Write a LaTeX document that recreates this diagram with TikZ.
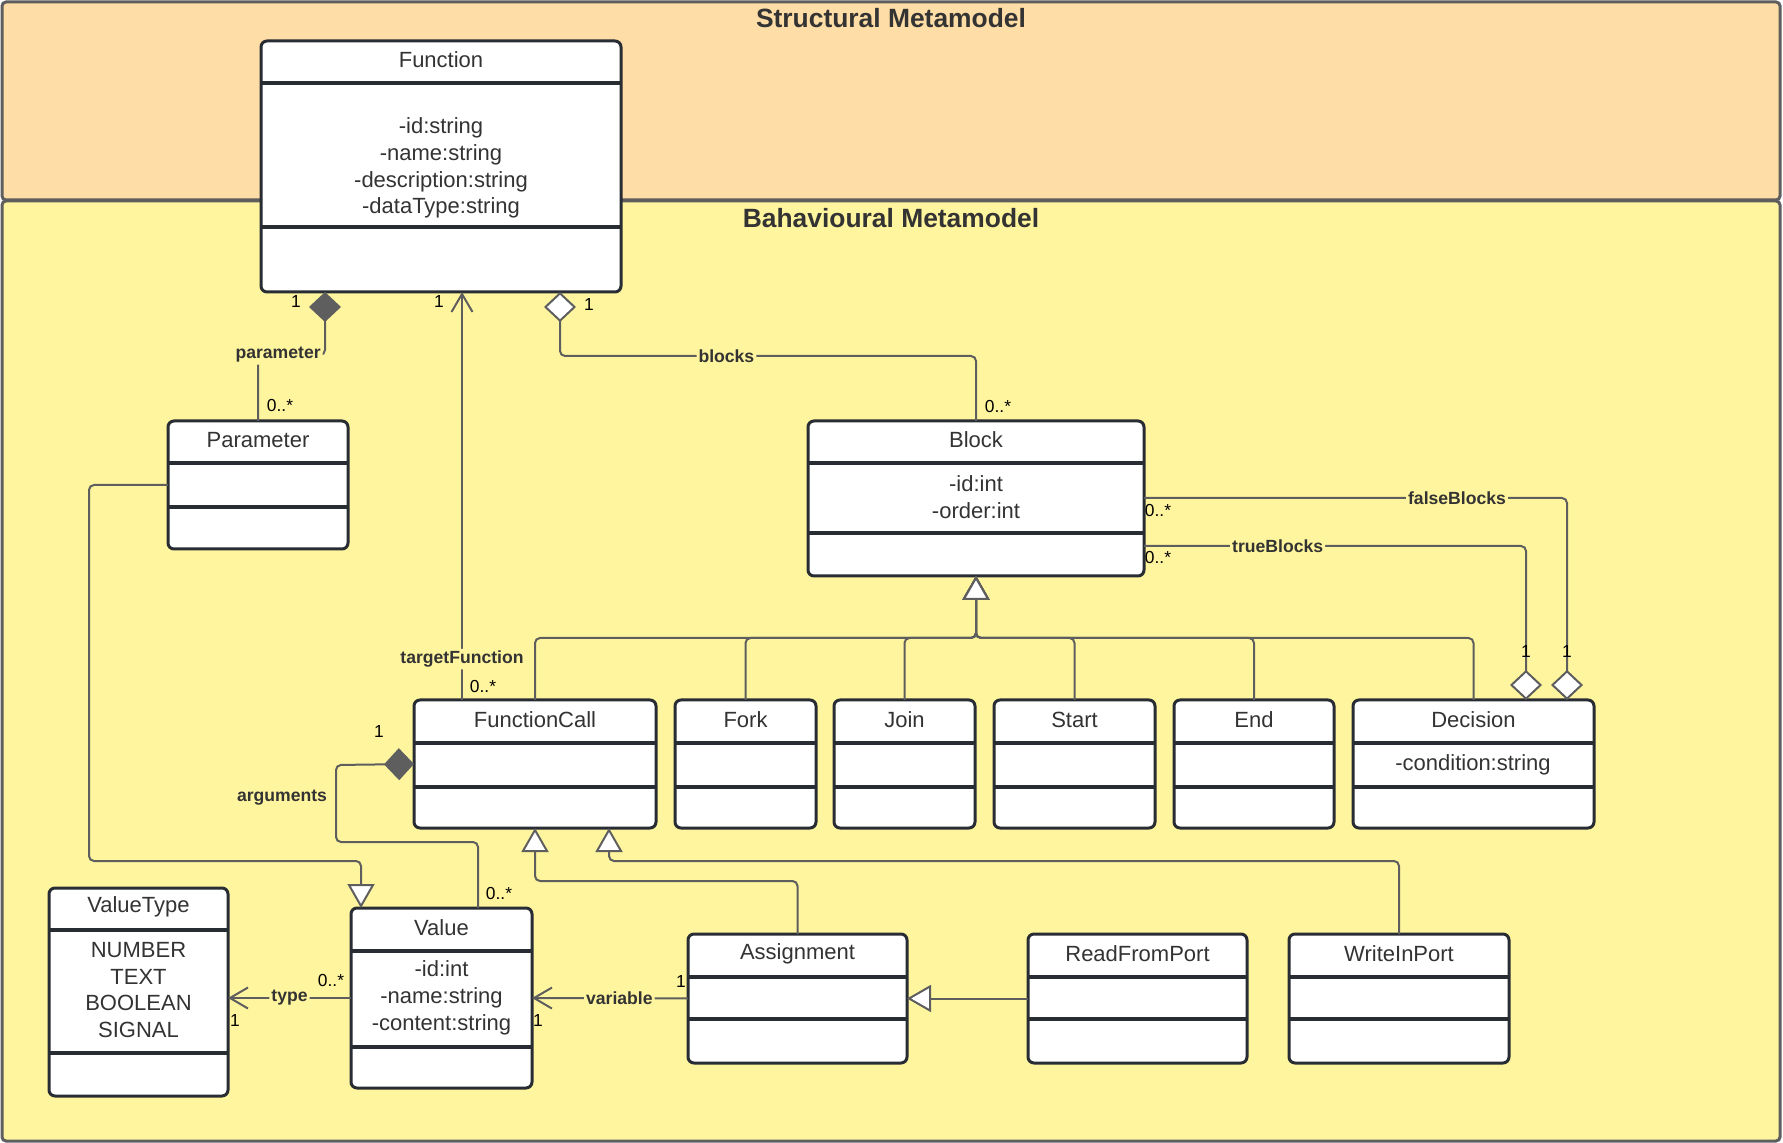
\documentclass[tikz,border=0pt]{standalone}
\usepackage{fontspec}
\setmainfont{Liberation Sans}
\usetikzlibrary{arrows.meta, fit, calc}

\definecolor{structfill}{HTML}{FFDDA6}
\definecolor{behavfill}{HTML}{FFF59E}
\definecolor{linegray}{HTML}{5E5E5E}
\definecolor{boxline}{HTML}{282C33}
\definecolor{txt}{HTML}{333333}

% class box: name, x1, y1, x2, y2, first line, second line, title
\newcommand{\umlclass}[8]{%
  \node[cls, fit={(#2,#3) (#4,#5)}] (#1) {};
  \draw[clsline] (#2,#6) -- (#4,#6);
  \draw[clsline] (#2,#7) -- (#4,#7);
  \node[clsname] (#1-name) at ($(#2,#3)!0.5!(#4,#6)$) {#8};
}

\begin{document}
\begin{tikzpicture}[x=0.5pt, y=-0.5pt,
  panel/.style={draw=linegray, line width=1.5pt, rounded corners=2pt},
  ptitle/.style={font=\bfseries\fontsize{13.2}{15}\selectfont, text=txt},
  cls/.style={draw=boxline, fill=white, line width=1.5pt, rounded corners=3pt, inner sep=0pt, outer sep=0pt},
  clsline/.style={draw=boxline, line width=1.8pt},
  clsname/.style={font=\fontsize{11}{13.4}\selectfont, text=txt, yshift=1pt},
  attr/.style={font=\fontsize{11}{13.4}\selectfont, text=txt, align=center},
  conn/.style={draw=linegray, line width=1pt, rounded corners=2.5pt},
  comp/.style={conn, -{Diamond[length=15pt, width=16pt, fill=linegray]}},
  aggr/.style={conn, -{Diamond[length=15pt, width=16pt, fill=white]}},
  gen/.style={conn, -{Triangle[length=12pt, width=13.5pt, fill=white]}},
  assoc/.style={conn, -{Straight Barb[length=9pt, width=10.5pt]}},
  lbl/.style={font=\bfseries\fontsize{8.8}{10}\selectfont, text=txt, fill=behavfill, inner sep=1pt},
  mult/.style={font=\fontsize{8.7}{10}\selectfont, inner sep=0pt}]
\useasboundingbox (0,0) rectangle (1783,1143);

% packages
\draw[panel, fill=structfill] (2,2) rectangle (1780,200);
\draw[panel, fill=behavfill] (2,201) rectangle (1780,1141);
\node[ptitle] (stitle) at (891,18) {Structural Metamodel};
\node[ptitle] (btitle) at (891,218) {Bahavioural Metamodel};

% classes
\umlclass{fn}{261}{41}{621}{292}{83}{227}{Function}
\node[attr] (fn-attr) at (441,168) {-id:string\\-name:string\\-description:string\\-dataType:string};
\umlclass{par}{168}{421}{348}{549}{463}{507}{Parameter}
\umlclass{blk}{808}{421}{1144}{576}{463}{533}{Block}
\node[attr] (blk-attr) at (976,497) {-id:int\\-order:int};
\umlclass{fcall}{414}{700}{656}{828}{743}{787}{FunctionCall}
\umlclass{fork}{675}{700}{816}{828}{743}{787}{Fork}
\umlclass{join}{834}{700}{975}{828}{743}{787}{Join}
\umlclass{start}{994}{700}{1155}{828}{743}{787}{Start}
\umlclass{endb}{1174}{700}{1334}{828}{743}{787}{End}
\umlclass{dec}{1353}{700}{1594}{828}{743}{787}{Decision}
\node[attr] (dec-attr) at (1473,765) {-condition:string};
\umlclass{vtype}{49}{888}{228}{1096}{930}{1053}{ValueType}
\node[attr] (vtype-attr) at (138.5,990) {NUMBER\\TEXT\\BOOLEAN\\SIGNAL};
\umlclass{val}{351}{908}{532}{1088}{951}{1047}{Value}
\node[attr] (val-attr) at (441.5,998) {-id:int\\-name:string\\-content:string};
\umlclass{asg}{688}{934}{907}{1063}{977}{1019}{Assignment}
\umlclass{rfp}{1028}{934}{1247}{1063}{977}{1019}{ReadFromPort}
\umlclass{wip}{1289}{934}{1509}{1063}{977}{1019}{WriteInPort}

% associations
\draw[comp] (par.north) -- (258,355) -- node[lbl, pos=0.3] (lparam) {parameter} (325,355) -- (fn.south -| 325,0);
\draw[assoc] (fcall.north -| 462,0) -- node[lbl, pos=0.1] (ltarget) {targetFunction} (fn.south -| 462,0);
\draw[aggr] (blk.north) -- (976,356) -- node[lbl, pos=0.6] (lblocks) {blocks} (560,356) -- (fn.south -| 560,0);
\draw[aggr] (blk.east |- 0,498) -- node[lbl, pos=0.74] (lfalse) {falseBlocks} (1567,498) -- (dec.north -| 1567,0);
\draw[aggr] (blk.east |- 0,546) -- node[lbl, pos=0.35] (ltrue) {trueBlocks} (1526,546) -- (dec.north -| 1526,0);
\draw[comp] (val.north -| 478,0) |- (336,842) -- node[lbl, left, pos=0.57, xshift=-3pt] (largs) {arguments} (336,765) -- (fcall.west);
\draw[assoc] (val.west) -- node[lbl, pos=0.5] (ltype) {type} (vtype.east |- val.west);
\draw[assoc] (asg.west) -- node[lbl, pos=0.44] (lvar) {variable} (val.east);

% generalizations
\foreach \c in {fcall,fork,join,start,endb,dec}
  \draw[gen] (\c.north) |- (976,638) -- (blk.south);
\draw[gen] (asg.north) |- (535,881) -- (fcall.south);
\draw[gen] (wip.north) |- (609,861) -- (fcall.south -| 609,0);
\draw[gen] (rfp.west) -- (asg.east);
\draw[gen] (par.west) -| (89,861) -| (val.north -| 361,0);

% multiplicities
\node[mult] (m1) at (296,302) {1};
\node[mult] (m2) at (280,406) {0..*};
\node[mult] (m3) at (439,302) {1};
\node[mult] (m4) at (483,687) {0..*};
\node[mult] (m5) at (589,305) {1};
\node[mult] (m6) at (998,407) {0..*};
\node[mult] (m7) at (1158,511) {0..*};
\node[mult] (m8) at (1158,558) {0..*};
\node[mult] (m9) at (1526,652) {1};
\node[mult] (m10) at (1567,652) {1};
\node[mult] (m11) at (379,732) {1};
\node[mult] (m12) at (499,894) {0..*};
\node[mult] (m13) at (331,981) {0..*};
\node[mult] (m14) at (235,1021) {1};
\node[mult] (m15) at (681,982) {1};
\node[mult] (m16) at (538,1021) {1};
\end{tikzpicture}
\end{document}
